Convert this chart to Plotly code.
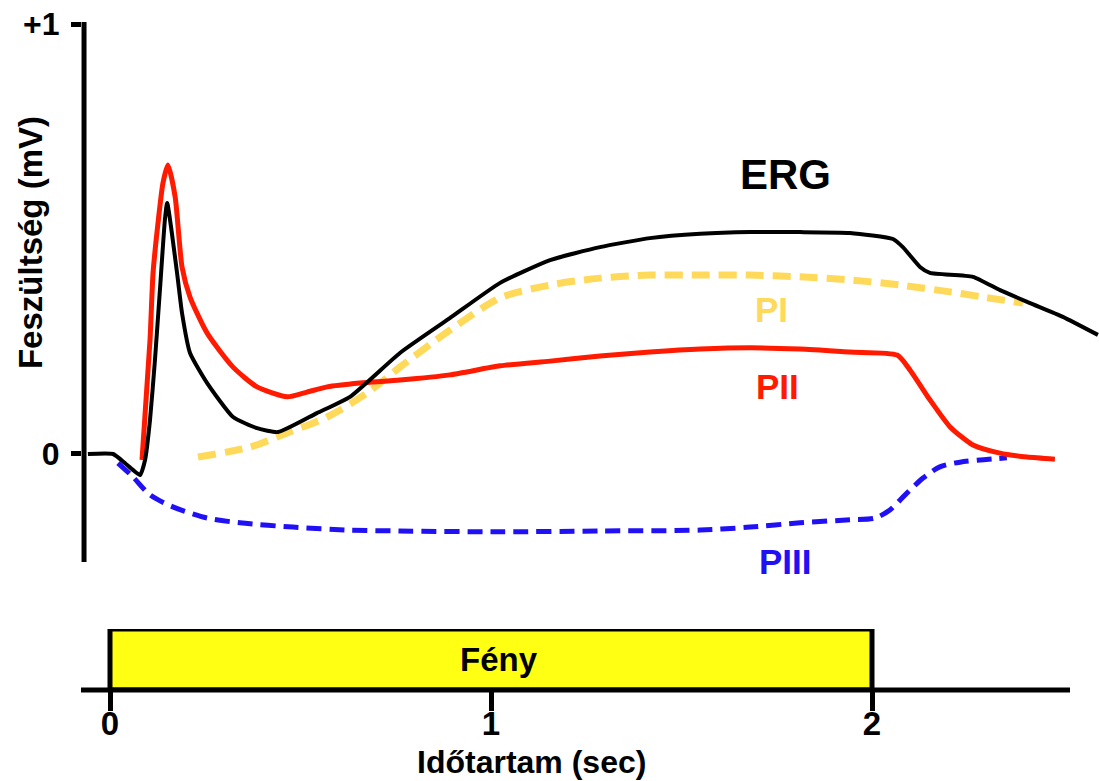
import plotly.graph_objects as go

# ---- data (time in sec, voltage in mV) ----
erg_t = [-0.058, 0.008, 0.039, 0.060, 0.079, 0.092, 0.105, 0.118, 0.131, 0.144, 0.150,
         0.176, 0.189, 0.210, 0.255, 0.323, 0.386, 0.441, 0.543, 0.630, 0.761, 0.892,
         1.024, 1.155, 1.286, 1.417, 1.549, 1.680, 1.811, 1.942, 2.055, 2.081, 2.126,
         2.152, 2.265, 2.336, 2.415, 2.501, 2.593]
erg_v = [0.0, 0.0, -0.021, -0.037, -0.049, -0.014, 0.079, 0.219, 0.381, 0.544, 0.584,
         0.421, 0.328, 0.235, 0.165, 0.086, 0.060, 0.051, 0.095, 0.133, 0.235, 0.316,
         0.398, 0.451, 0.481, 0.502, 0.512, 0.516, 0.516, 0.514, 0.500, 0.481, 0.435,
         0.421, 0.412, 0.381, 0.351, 0.319, 0.277]

p2_t = [0.084, 0.105, 0.113, 0.126, 0.139, 0.152, 0.171, 0.189, 0.210, 0.255, 0.323,
        0.386, 0.465, 0.517, 0.570, 0.656, 0.761, 0.892, 1.024, 1.155, 1.286, 1.417,
        1.549, 1.680, 1.811, 1.942, 2.066, 2.100, 2.152, 2.205, 2.265, 2.336, 2.407, 2.480]
p2_v = [-0.014, 0.265, 0.421, 0.537, 0.630, 0.672, 0.598, 0.435, 0.365, 0.281, 0.202,
        0.156, 0.133, 0.144, 0.156, 0.165, 0.172, 0.184, 0.205, 0.216, 0.228, 0.237,
        0.244, 0.247, 0.244, 0.237, 0.230, 0.195, 0.126, 0.063, 0.021, 0.002, -0.007, -0.012]

p1_t = [0.231, 0.367, 0.465, 0.570, 0.675, 0.761, 0.892, 1.024, 1.155, 1.286, 1.417,
        1.549, 1.680, 1.811, 1.942, 2.073, 2.205, 2.291, 2.396]
p1_v = [-0.007, 0.016, 0.049, 0.086, 0.142, 0.202, 0.288, 0.363, 0.393, 0.409, 0.416,
        0.416, 0.416, 0.412, 0.405, 0.393, 0.377, 0.365, 0.351]

p3_t = [0.021, 0.060, 0.105, 0.165, 0.255, 0.341, 0.480, 0.630, 0.761, 1.024, 1.286,
        1.549, 1.680, 1.811, 1.942, 2.008, 2.047, 2.087, 2.134, 2.178, 2.231, 2.354]
p3_v = [-0.021, -0.053, -0.095, -0.123, -0.149, -0.160, -0.170, -0.177, -0.179, -0.181,
        -0.179, -0.177, -0.170, -0.160, -0.153, -0.149, -0.130, -0.095, -0.056, -0.030,
        -0.019, -0.009]

light_on = [0, 2]          # light stimulus interval (sec)
x_ticks = [0, 1, 2]
x_ticktext = ["0", "1", "2"]
y_ticks = [0, 1]
y_ticktext = ["0", "+1"]

FONT = "Liberation Sans, Arial, sans-serif"
RED = "#FF1A00"
BLUE = "#2010F5"
GOLD = "#FFD95A"
BLACK = "#000000"

fig = go.Figure()

fig.add_trace(go.Scatter(x=p1_t, y=p1_v, mode="lines",
                         line=dict(color=GOLD, width=7, dash="18px,9px", shape="spline", smoothing=0.8),
                         hoverinfo="skip"))
fig.add_trace(go.Scatter(x=p3_t, y=p3_v, mode="lines",
                         line=dict(color=BLUE, width=5, dash="15px,8px", shape="spline", smoothing=0.8),
                         hoverinfo="skip"))
fig.add_trace(go.Scatter(x=p2_t, y=p2_v, mode="lines",
                         line=dict(color=RED, width=5, shape="spline", smoothing=0.6),
                         hoverinfo="skip"))
fig.add_trace(go.Scatter(x=erg_t, y=erg_v, mode="lines",
                         line=dict(color=BLACK, width=4, shape="spline", smoothing=0.5),
                         hoverinfo="skip"))

# light stimulus box
fig.add_shape(type="rect", xref="x", yref="y2", x0=light_on[0], x1=light_on[1], y0=0, y1=1,
              fillcolor="#FFFF14", line=dict(color="black", width=5), layer="below")
# axis lines
fig.add_shape(type="line", xref="paper", yref="paper", x0=-0.001, x1=0.9715, y0=0, y1=0,
              line=dict(color="black", width=5))
fig.add_shape(type="line", xref="paper", yref="paper", x0=0.002, x1=0.002, y0=0.1855, y1=0.9681,
              line=dict(color="black", width=5))

ann = [
    dict(x=1.02, y=0.5, xref="x", yref="y2", text="<b>Fény</b>", font=dict(size=33, color="black")),
    dict(x=1.772, y=0.649, xref="x", yref="y", text="<b>ERG</b>", font=dict(size=42, color="black")),
    dict(x=1.735, y=0.335, xref="x", yref="y", text="<b>PI</b>", font=dict(size=35, color=GOLD)),
    dict(x=1.751, y=0.158, xref="x", yref="y", text="<b>PII</b>", font=dict(size=35, color=RED)),
    dict(x=1.774, y=-0.251, xref="x", yref="y", text="<b>PIII</b>", font=dict(size=35, color=BLUE)),
    dict(x=0.4415, y=-0.1043, xref="paper", yref="paper", text="<b>Időtartam (sec)</b>",
         font=dict(size=32, color="black")),
    dict(x=-0.0511, y=0.6478, xref="paper", yref="paper", text="<b>Feszültség (mV)</b>",
         textangle=-90, font=dict(size=33, color="black")),
]
for a in ann:
    a.update(showarrow=False, xanchor="center", yanchor="middle")
    a["font"]["family"] = FONT
fig.update_layout(annotations=ann)

fig.update_layout(
    width=1099, height=781,
    margin=dict(l=82, r=0, t=0, b=91, autoexpand=False),
    paper_bgcolor="white", plot_bgcolor="white",
    showlegend=False,
    font=dict(family=FONT, color="black"),
    xaxis=dict(range=[-0.0735, 2.5958], domain=[0, 1], anchor="y2", automargin=False,
               showgrid=False, zeroline=False, showline=False,
               tickmode="array", tickvals=x_ticks, ticktext=x_ticktext,
               ticks="outside", ticklen=20, tickwidth=5, tickcolor="black",
               ticklabelstandoff=-16,
               tickfont=dict(size=33, family=FONT, weight="bold", color="black")),
    yaxis=dict(range=[-0.2512, 1.00465], domain=[0.1855, 0.9681], anchor="x", automargin=False,
               showgrid=False, zeroline=False, showline=False,
               tickmode="array", tickvals=y_ticks, ticktext=y_ticktext,
               ticks="outside", ticklen=10, tickwidth=5, tickcolor="black",
               ticklabelstandoff=5,
               tickfont=dict(size=32, family=FONT, weight="bold", color="black")),
    yaxis2=dict(range=[0, 1], domain=[0, 0.0884], anchor="x", visible=False,
                showgrid=False, zeroline=False),
)

fig.write_html("out.html")
